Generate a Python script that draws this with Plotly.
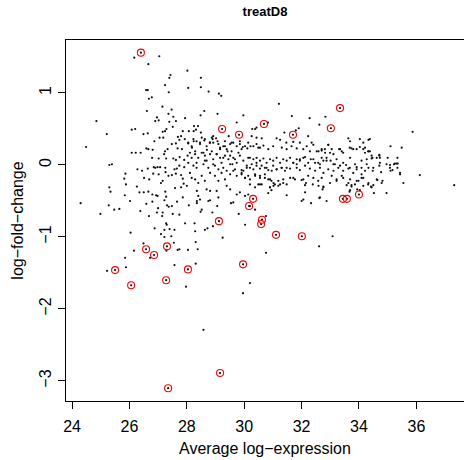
import plotly.graph_objects as go

# Average log-expression (A) and log-fold-change (M) for all probes
avg_expr = [
26.17,27.04,26.66,27.43,27.39,27.24,26.58,26.64,27.37,26.78,26.68,26.61,27.15,27.47,26.96,26.90,27.02,27.36,27.53,27.39,
27.62,27.94,24.85,26.08,26.20,25.21,26.49,26.64,27.29,27.24,27.16,27.51,27.18,27.05,26.87,27.69,27.80,27.86,27.74,27.93,
27.62,27.48,27.68,27.83,24.49,26.08,26.22,26.39,26.59,26.66,26.81,27.24,27.21,27.33,26.79,27.02,27.28,27.53,27.62,27.75,
27.91,25.30,25.39,26.28,26.44,26.64,26.85,26.90,26.98,27.07,27.25,27.57,27.65,27.74,27.91,25.86,25.82,26.51,26.69,26.83,
27.02,27.26,27.36,27.48,27.62,27.80,27.86,25.88,26.26,26.35,26.50,26.66,26.80,26.93,26.98,27.10,27.16,27.25,27.28,27.59,
27.80,27.89,25.30,25.34,25.84,26.02,26.59,26.80,27.00,27.16,27.22,27.31,27.37,27.48,27.66,27.86,24.30,25.28,25.47,25.65,
24.99,26.38,26.68,26.96,27.14,27.51,27.74,27.94,26.88,27.28,27.30,27.40,27.22,27.57,26.04,27.10,27.22,27.46,27.55,26.49,
27.29,27.68,27.74,26.16,25.85,26.72,27.57,25.22,25.88,
28.02,28.49,28.05,28.49,28.76,29.12,29.20,28.61,28.48,29.07,29.74,28.25,28.39,28.32,28.24,28.07,28.49,28.24,28.61,28.90,
29.07,28.80,28.92,29.46,29.56,29.33,29.42,29.16,28.46,28.05,28.18,28.29,28.58,28.70,28.87,29.04,29.27,29.51,29.68,29.80,
28.03,28.17,28.34,28.63,28.92,29.59,
28.05,28.17,28.23,28.34,28.46,28.52,28.63,28.69,28.81,28.87,28.92,29.02,29.10,29.16,29.27,29.33,29.39,29.51,29.56,29.62,
29.74,29.85,29.91,30.03,30.14,28.11,28.29,28.40,28.52,28.63,28.69,28.81,28.92,29.04,29.16,29.21,29.33,29.45,29.51,29.62,
29.74,29.85,29.97,30.09,30.14,28.05,28.23,28.34,28.58,28.75,28.98,29.10,29.27,29.39,29.68,29.91,
31.21,31.66,32.28,32.83,32.62,30.83,30.28,30.38,30.43,31.40,31.90,31.80,30.26,30.43,30.61,31.13,31.25,31.47,31.71,31.94,
32.23,32.35,32.41,32.93,33.63,33.69,34.03,34.15,34.33,30.32,30.49,30.67,30.84,31.01,31.31,31.48,31.65,31.83,32.06,32.18,
32.29,32.59,32.70,32.82,33.05,33.34,33.45,33.74,33.92,34.21,34.33,
30.20,30.32,30.43,30.55,30.67,30.78,30.90,31.01,31.13,31.25,31.36,31.48,31.60,31.71,31.83,31.94,32.06,32.23,32.41,32.58,
32.70,32.87,33.11,33.22,33.45,33.69,33.86,34.09,34.27,
29.97,29.85,29.95,30.11,30.22,30.43,30.55,32.93,32.53,32.70,32.81,32.99,33.11,33.31,33.40,33.68,33.80,34.03,34.15,34.21,
34.32,34.44,34.62,34.71,34.96,35.08,35.22,35.31,35.34,35.43,35.55,36.12,37.32,34.73,34.50,34.27,34.09,33.92,33.68,33.55,
33.34,33.16,33.01,32.87,32.76,32.64,32.47,32.32,32.12,31.94,31.83,31.71,31.48,31.31,31.13,30.96,30.78,30.61,30.43,30.26,
30.09,29.97,29.91,30.03,30.20,30.38,30.55,30.72,30.84,31.02,31.19,31.36,31.60,31.77,32.00,32.15,32.39,32.59,32.76,32.99,
33.22,33.45,33.63,33.74,33.92,34.09,34.32,34.44,34.62,34.79,31.02,30.90,31.25,30.55,30.38,30.20,
35.87,34.38,35.10,35.49,34.38,34.47,34.44,34.71,34.73,35.00,35.34,34.71,35.08,35.25,35.35,35.17,35.10,34.48,34.77,35.43,
34.64,34.82,34.50,34.42,34.52,34.96,
28.29,28.72,28.63,28.52,28.48,28.35,28.35,28.81,28.75,29.10,29.06,28.89,29.25,28.11,28.17,28.29,28.40,28.52,28.63,28.35,
28.40,28.46,28.69,28.81,29.04,28.81,28.98,29.10,29.21,29.33,29.51,29.62,29.74,29.91,30.03,30.14,29.39,29.51,29.74,29.85,
30.03,30.14,28.00,
30.20,30.32,30.43,30.55,30.72,30.84,31.01,31.13,31.30,31.42,31.60,31.83,31.94,32.12,32.29,32.47,32.64,32.76,32.93,33.11,
33.28,33.45,33.63,33.80,33.92,34.09,34.21,34.33,
30.38,30.55,30.72,30.90,30.95,31.07,31.19,31.36,31.48,31.71,32.06,32.23,32.41,32.58,32.70,33.05,33.22,33.40,33.69,33.98,
34.15,
30.49,30.61,30.90,30.95,30.84,31.48,32.12,32.12,32.76,32.73,32.64,32.62,32.87,32.33,32.06,32.00,33.69,33.67,33.57,33.74,
33.86,33.94,34.03,34.15,34.33,30.38,30.76,33.08,30.20,
32.61,30.76,30.20,29.96,30.03,
28.04,28.38,28.31,28.31,27.97,28.58,28.91,28.27,28.07,29.54,29.62,29.81,
]
log_fc = [
1.49,1.51,1.40,1.25,1.21,1.11,1.04,1.04,1.01,0.94,0.92,0.75,0.81,0.77,0.66,0.61,0.62,0.71,0.67,0.60,
0.61,0.65,0.61,0.49,0.50,0.43,0.43,0.44,0.50,0.47,0.46,0.53,0.38,0.38,0.33,0.39,0.40,0.47,0.35,0.36,
0.30,0.29,0.23,0.22,0.25,0.17,0.17,0.17,0.23,0.22,0.21,0.19,0.15,0.22,0.10,0.09,0.09,0.09,0.07,0.11,
0.07,0.00,0.01,-0.06,-0.08,-0.05,-0.03,-0.04,-0.03,-0.03,-0.04,-0.06,-0.05,-0.01,-0.03,-0.12,-0.19,-0.18,-0.20,-0.12,
-0.13,-0.10,-0.15,-0.14,-0.12,-0.14,-0.19,-0.27,-0.30,-0.38,-0.38,-0.37,-0.41,-0.42,-0.43,-0.25,-0.22,-0.37,-0.44,-0.32,
-0.31,-0.26,-0.31,-0.37,-0.42,-0.50,-0.54,-0.51,-0.60,-0.66,-0.49,-0.56,-0.58,-0.57,-0.51,-0.45,-0.53,-0.56,-0.62,-0.61,
-0.68,-0.64,-0.71,-0.66,-0.71,-0.68,-0.69,-0.81,-0.88,-0.81,-0.83,-0.89,-0.90,-0.90,-0.94,-0.96,-1.00,-0.99,-1.08,-1.09,
-1.19,-1.18,-1.17,-1.19,-1.29,-1.29,-1.39,-1.47,-1.42,
1.31,1.21,1.07,1.08,1.02,0.99,0.96,0.75,0.69,0.71,0.59,0.54,0.54,0.49,0.47,0.47,0.45,0.33,0.34,0.36,
0.33,0.31,0.40,0.40,0.31,0.26,0.19,0.24,0.29,0.30,0.24,0.19,0.17,0.21,0.19,0.15,0.10,0.13,0.08,0.17,
0.13,0.10,0.03,0.06,0.01,0.01,
0.31,0.26,0.36,0.33,0.31,0.38,0.36,0.26,0.31,0.38,0.31,0.37,0.29,0.22,0.26,0.33,0.22,0.29,0.19,0.31,
0.26,0.33,0.22,0.26,0.31,0.17,0.15,0.10,0.17,0.13,0.06,0.15,0.08,0.15,0.10,0.03,0.13,0.08,0.01,0.10,
0.03,0.13,0.06,-0.01,0.10,0.03,-0.01,-0.04,0.01,-0.04,-0.01,-0.06,-0.04,-0.08,-0.06,-0.07,
0.85,0.68,0.65,0.67,0.56,0.59,0.50,0.50,0.52,0.45,0.51,0.48,0.40,0.38,0.37,0.37,0.35,0.31,0.32,0.31,
0.40,0.31,0.28,0.28,0.37,0.33,0.36,0.31,0.35,0.26,0.24,0.27,0.22,0.26,0.24,0.22,0.26,0.23,0.22,0.26,
0.19,0.19,0.22,0.17,0.22,0.22,0.17,0.23,0.22,0.24,0.19,
0.10,0.08,0.10,0.06,0.09,0.03,0.08,0.06,0.10,0.03,0.08,0.06,0.10,0.03,0.08,0.06,0.10,0.03,0.08,0.03,
0.10,0.06,0.01,0.08,0.03,0.10,0.01,0.06,0.08,
0.69,0.29,0.25,0.23,0.26,0.29,0.24,0.28,0.19,0.20,0.22,0.17,0.15,0.22,0.19,0.24,0.22,0.25,0.22,0.17,
0.19,0.13,0.10,0.14,0.01,-0.04,0.01,0.02,-0.04,-0.11,-0.25,-0.14,-0.28,0.03,-0.04,0.01,-0.04,-0.03,-0.04,0.00,
-0.01,0.01,0.06,0.10,0.06,0.01,0.03,0.08,0.11,0.08,0.01,0.03,-0.04,-0.04,-0.06,-0.08,-0.04,-0.01,0.03,0.01,
-0.04,-0.08,-0.13,-0.18,-0.20,-0.15,-0.18,-0.13,-0.20,-0.25,-0.22,-0.20,-0.18,-0.20,-0.21,-0.25,-0.27,-0.29,-0.31,-0.25,
-0.22,-0.18,-0.25,-0.28,-0.22,-0.18,-0.27,-0.31,-0.20,-0.25,-0.29,-0.31,-0.27,-0.27,-0.31,-0.27,
0.46,0.36,0.26,0.24,0.19,0.10,0.09,0.13,0.10,0.10,0.10,-0.01,0.00,0.02,0.02,-0.07,-0.08,-0.08,-0.10,-0.13,
-0.21,-0.22,-0.28,-0.30,-0.39,-0.39,
-0.92,-0.88,-0.90,-0.62,-0.65,-0.50,-0.53,-0.49,-0.50,-0.45,-0.57,-0.66,-1.01,-0.11,-0.18,-0.20,-0.25,-0.15,-0.22,-0.36,
-0.43,-0.48,-0.34,-0.36,-0.36,-0.11,-0.15,-0.22,-0.11,-0.20,-0.13,-0.08,-0.15,-0.11,-0.18,-0.15,-0.29,-0.34,-0.41,-0.38,
-0.43,-0.41,-0.29,
-0.04,-0.06,-0.01,-0.05,-0.04,-0.07,-0.01,-0.06,-0.04,-0.08,-0.05,-0.04,-0.07,-0.01,-0.05,-0.08,-0.04,-0.11,-0.06,-0.08,
-0.04,-0.08,-0.05,-0.11,-0.06,-0.13,-0.08,-0.04,
-0.13,-0.15,-0.18,-0.20,-0.22,-0.27,-0.29,-0.25,-0.27,-0.18,-0.20,-0.15,-0.18,-0.22,-0.18,-0.15,-0.20,-0.15,-0.20,-0.22,
-0.18,
-0.27,-0.27,-0.31,-0.35,-0.39,-0.42,-0.28,-0.38,-0.30,-0.34,-0.45,-0.46,-0.50,-0.53,-0.48,-0.50,-0.35,-0.37,-0.28,-0.30,
-0.27,-0.34,-0.35,-0.29,-0.25,-0.62,-0.71,-0.99,-0.57,
-1.13,-1.22,-1.64,-1.78,-0.83,
-1.18,-1.17,-1.37,-1.07,-1.69,-2.29,-0.85,-0.81,-0.56,-0.53,-0.52,-0.68,
]

# Highlighted (differentially expressed) probes
de_avg_expr = [26.40,29.23,29.82,30.69,31.70,33.34,33.02,29.12,26.58,26.86,27.31,25.50,28.04,26.06,27.28,
               29.16,27.35,30.31,30.17,30.62,30.59,31.11,32.01,29.96,33.44,33.58,34.00]
de_log_fc = [1.56,0.50,0.42,0.57,0.42,0.79,0.51,-0.78,-1.17,-1.25,-1.13,-1.46,-1.45,-1.67,-1.60,
             -2.89,-3.10,-0.47,-0.57,-0.76,-0.82,-0.97,-0.99,-1.38,-0.47,-0.47,-0.41]

x_ticks = [24, 26, 28, 30, 32, 34, 36]
y_ticks = [-3, -2, -1, 0, 1]

FONT = "Liberation Sans, Arial, Helvetica, sans-serif"

fig = go.Figure()
fig.add_trace(go.Scatter(
    x=avg_expr + de_avg_expr, y=log_fc + de_log_fc, mode="markers",
    marker=dict(color="#111111", size=2.2, line=dict(width=0)),
    hoverinfo="skip", showlegend=False))
fig.add_trace(go.Scatter(
    x=de_avg_expr, y=de_log_fc, mode="markers",
    marker=dict(symbol="circle-open", color="#ff0000", size=7, line=dict(width=1.1, color="#ff0000")),
    hoverinfo="skip", showlegend=False))

fig.update_layout(
    width=464, height=460,
    margin=dict(l=66, r=0, t=40, b=59, autoexpand=False),
    paper_bgcolor="white", plot_bgcolor="white",
    font=dict(family=FONT, size=16, color="black"),
    hovermode=False,
    title=dict(text="<b>treatD8</b>", x=0.5, xref="paper", y=1 - 11 / 460,
               yref="container", xanchor="center", yanchor="middle",
               font=dict(family=FONT, size=13, color="black")),
    xaxis=dict(range=[23.79, 37.66], tickvals=x_ticks, ticks="outside", ticklen=7,
               tickwidth=1, tickcolor="black", showline=True, linecolor="black",
               linewidth=1.3, mirror=True, automargin=False, ticklabelstandoff=3,
               showgrid=False, zeroline=False, tickfont=dict(size=16),
               title=dict(text="Average log\u2212expression", font=dict(size=16), standoff=9)),
    yaxis=dict(range=[-3.278, 1.736], tickvals=y_ticks, ticks="outside", ticklen=7,
               tickwidth=1, tickcolor="black", showline=True, linecolor="black",
               linewidth=1.3, mirror=False, automargin=False,
               showgrid=False, zeroline=False,
               tickangle=-90, tickfont=dict(size=16),
               title=dict(text="log\u2212fold\u2212change", font=dict(size=16), standoff=9)),
)

# remove the browser's default page margin so the figure sits at the window's corner
fig.write_html("out.html", config={"displayModeBar": False, "staticPlot": True},
               post_script="document.body.style.margin='0';")
